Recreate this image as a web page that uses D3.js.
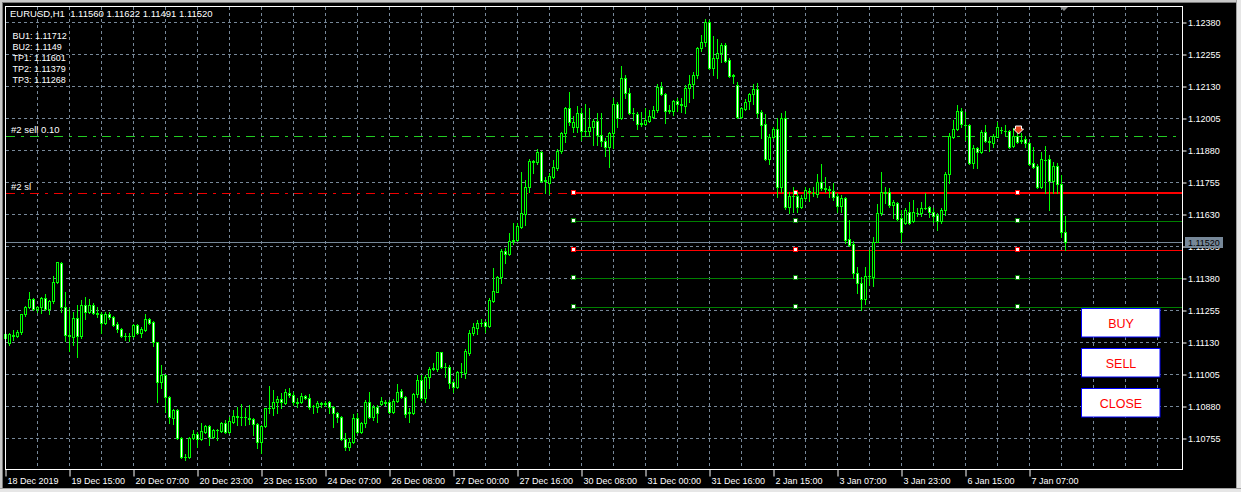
<!DOCTYPE html>
<html><head><meta charset="utf-8">
<script src="https://cdn.jsdelivr.net/npm/d3@7"></script>
<style>html,body{margin:0;padding:0;background:#000;overflow:hidden}svg{display:block}text{font-family:"Liberation Sans",Arial,sans-serif}</style>
</head><body><svg id="c" width="1241" height="492"></svg>
<script>
const symbolTitle = "EURUSD,H1  1.11560 1.11622 1.11491 1.11520";
const opens = [1.11146,1.11126,1.11157,1.11153,1.11169,1.11239,1.11267,1.11298,1.11259,1.11267,
1.11302,1.11259,1.11290,1.11364,1.11438,1.11267,1.11157,1.11150,1.11224,1.11153,
1.11275,1.11247,1.11275,1.11243,1.11239,1.11204,1.11239,1.11228,1.11200,1.11181,
1.11153,1.11153,1.11153,1.11196,1.11165,1.11177,1.11220,1.11208,1.11130,1.10974,
1.11001,1.10915,1.10833,1.10864,1.10755,1.10681,1.10681,1.10755,1.10771,1.10751,
1.10778,1.10802,1.10759,1.10786,1.10782,1.10814,1.10778,1.10817,1.10837,1.10837,
1.10837,1.10833,1.10829,1.10810,1.10739,1.10802,1.10872,1.10872,1.10896,1.10907,
1.10892,1.10931,1.10923,1.10896,1.10896,1.10919,1.10911,1.10880,1.10876,1.10888,
1.10888,1.10896,1.10876,1.10853,1.10837,1.10751,1.10720,1.10739,1.10833,1.10778,
1.10814,1.10896,1.10837,1.10876,1.10888,1.10896,1.10896,1.10857,1.10900,1.10939,
1.10915,1.10853,1.10853,1.10927,1.10982,1.10911,1.10993,1.11025,1.11025,1.11091,
1.11032,1.11032,1.10974,1.10954,1.11013,1.11009,1.11087,1.11165,1.11185,1.11204,
1.11208,1.11192,1.11290,1.11325,1.11384,1.11485,1.11474,1.11524,1.11528,1.11579,
1.11630,1.11735,1.11837,1.11833,1.11872,1.11759,1.11751,1.11775,1.11810,1.11876,
1.11946,1.12044,1.11970,1.11970,1.12025,1.11954,1.11954,1.11970,1.11993,1.11939,
1.11915,1.11892,1.11946,1.12060,1.12005,1.12161,1.12103,1.12025,1.12021,1.11982,
1.11982,1.11993,1.12009,1.12036,1.12126,1.12099,1.12032,1.12032,1.12071,1.12060,
1.12052,1.12122,1.12138,1.12173,1.12278,1.12302,1.12380,1.12200,1.12239,1.12259,
1.12290,1.12232,1.12169,1.12134,1.12009,1.12040,1.12071,1.12099,1.12118,1.12028,
1.11982,1.11845,1.11931,1.11962,1.11735,1.12005,1.11657,1.11700,1.11700,1.11657,
1.11692,1.11720,1.11712,1.11708,1.11755,1.11732,1.11728,1.11720,1.11700,1.11661,
1.11692,1.11532,1.11513,1.11399,1.11360,1.11298,1.11388,1.11384,1.11520,1.11634,
1.11716,1.11716,1.11665,1.11673,1.11614,1.11595,1.11638,1.11603,1.11634,1.11634,
1.11653,1.11657,1.11638,1.11626,1.11603,1.11646,1.11786,1.11931,1.11962,1.12032,
1.11978,1.11978,1.11829,1.11888,1.11872,1.11950,1.11915,1.11907,1.11931,1.11958,
1.11954,1.11954,1.11896,1.11935,1.11915,1.11923,1.11907,1.11829,1.11817,1.11735,
1.11841,1.11845,1.11759,1.11817,1.11747,1.11560];
const highs = [1.11192,1.11165,1.11177,1.11177,1.11239,1.11271,1.11325,1.11302,1.11271,1.11306,
1.11317,1.11294,1.11388,1.11442,1.11442,1.11325,1.11263,1.11247,1.11275,1.11294,
1.11306,1.11298,1.11282,1.11267,1.11247,1.11247,1.11247,1.11232,1.11208,1.11185,
1.11165,1.11165,1.11200,1.11200,1.11189,1.11239,1.11224,1.11212,1.11130,1.11040,
1.11005,1.10919,1.10868,1.10868,1.10759,1.10692,1.10759,1.10786,1.10778,1.10814,
1.10806,1.10806,1.10790,1.10790,1.10817,1.10825,1.10837,1.10864,1.10876,1.10888,
1.10872,1.10884,1.10833,1.10814,1.10806,1.10872,1.10958,1.10942,1.10919,1.10931,
1.10946,1.10950,1.10935,1.10911,1.10931,1.10923,1.10927,1.10884,1.10900,1.10896,
1.10900,1.10900,1.10880,1.10857,1.10841,1.10775,1.10755,1.10849,1.10853,1.10817,
1.10903,1.10935,1.10884,1.10884,1.10915,1.10903,1.10903,1.10907,1.10966,1.10946,
1.10919,1.10872,1.10931,1.11001,1.11001,1.11001,1.11032,1.11048,1.11091,1.11091,
1.11048,1.11040,1.10978,1.11017,1.11048,1.11103,1.11177,1.11204,1.11216,1.11220,
1.11212,1.11302,1.11419,1.11388,1.11493,1.11497,1.11556,1.11595,1.11595,1.11794,
1.11763,1.11845,1.11841,1.11884,1.11876,1.11775,1.11790,1.11841,1.11884,1.11950,
1.12048,1.12107,1.12013,1.12052,1.12044,1.12060,1.12044,1.12001,1.12025,1.12025,
1.11927,1.11950,1.12083,1.12067,1.12208,1.12173,1.12122,1.12044,1.12028,1.12028,
1.12044,1.12036,1.12052,1.12138,1.12146,1.12103,1.12056,1.12075,1.12083,1.12083,
1.12134,1.12173,1.12185,1.12282,1.12329,1.12392,1.12388,1.12325,1.12314,1.12298,
1.12298,1.12239,1.12177,1.12146,1.12048,1.12079,1.12103,1.12138,1.12142,1.12036,
1.12021,1.11942,1.11970,1.12005,1.12025,1.12032,1.11716,1.11735,1.11716,1.11704,
1.11735,1.11732,1.11735,1.11786,1.11825,1.11775,1.11739,1.11751,1.11712,1.11704,
1.11696,1.11607,1.11524,1.11423,1.11384,1.11423,1.11489,1.11540,1.11669,1.11794,
1.11735,1.11732,1.11685,1.11677,1.11646,1.11653,1.11677,1.11685,1.11653,1.11677,
1.11712,1.11661,1.11653,1.11634,1.11653,1.11794,1.11946,1.11997,1.12056,1.12044,
1.12028,1.11982,1.11900,1.11892,1.11958,1.11978,1.11931,1.11942,1.11989,1.11970,
1.11978,1.11958,1.11966,1.11950,1.11946,1.11935,1.11911,1.11892,1.11825,1.11872,
1.11896,1.11860,1.11833,1.11829,1.11782,1.11622];
const lows = [1.11126,1.11118,1.11138,1.11150,1.11161,1.11232,1.11263,1.11255,1.11247,1.11243,
1.11255,1.11239,1.11282,1.11360,1.11247,1.11134,1.11095,1.11118,1.11071,1.11146,
1.11220,1.11243,1.11239,1.11228,1.11165,1.11200,1.11220,1.11192,1.11169,1.11150,
1.11138,1.11134,1.11150,1.11161,1.11150,1.11173,1.11200,1.11114,1.10896,1.10950,
1.10857,1.10814,1.10810,1.10751,1.10677,1.10669,1.10677,1.10751,1.10720,1.10747,
1.10775,1.10728,1.10755,1.10747,1.10778,1.10775,1.10775,1.10814,1.10806,1.10806,
1.10806,1.10810,1.10767,1.10716,1.10696,1.10798,1.10853,1.10845,1.10853,1.10872,
1.10888,1.10915,1.10884,1.10876,1.10892,1.10907,1.10868,1.10853,1.10857,1.10876,
1.10880,1.10853,1.10798,1.10817,1.10747,1.10708,1.10708,1.10735,1.10775,1.10775,
1.10798,1.10833,1.10825,1.10817,1.10884,1.10884,1.10853,1.10853,1.10896,1.10911,
1.10837,1.10817,1.10849,1.10915,1.10903,1.10896,1.10950,1.11021,1.11017,1.11028,
1.10993,1.10950,1.10935,1.10950,1.10993,1.10989,1.11079,1.11157,1.11161,1.11192,
1.11169,1.11189,1.11286,1.11325,1.11360,1.11438,1.11470,1.11513,1.11524,1.11575,
1.11587,1.11716,1.11790,1.11825,1.11755,1.11712,1.11708,1.11771,1.11802,1.11868,
1.11911,1.11978,1.11950,1.11950,1.11919,1.11939,1.11939,1.11900,1.11900,1.11896,
1.11857,1.11814,1.11888,1.11970,1.12001,1.12083,1.12021,1.11997,1.11962,1.11974,
1.11978,1.11989,1.12005,1.12028,1.12095,1.11985,1.12025,1.12017,1.12032,1.12028,
1.12025,1.12067,1.12083,1.12161,1.12267,1.12286,1.12196,1.12173,1.12161,1.12224,
1.12224,1.12165,1.12142,1.12005,1.12005,1.12036,1.12040,1.12060,1.12009,1.11927,
1.11841,1.11825,1.11927,1.11696,1.11716,1.11650,1.11634,1.11638,1.11638,1.11653,
1.11685,1.11681,1.11700,1.11696,1.11724,1.11716,1.11696,1.11685,1.11638,1.11638,
1.11516,1.11505,1.11380,1.11321,1.11255,1.11278,1.11353,1.11349,1.11520,1.11626,
1.11673,1.11657,1.11614,1.11607,1.11520,1.11591,1.11591,1.11599,1.11622,1.11622,
1.11650,1.11618,1.11599,1.11567,1.11595,1.11626,1.11751,1.11927,1.11958,1.11970,
1.11919,1.11825,1.11810,1.11810,1.11868,1.11911,1.11876,1.11892,1.11931,1.11946,
1.11939,1.11888,1.11892,1.11907,1.11907,1.11892,1.11821,1.11810,1.11732,1.11732,
1.11712,1.11646,1.11712,1.11712,1.11540,1.11491];
const closes = [1.11161,1.11161,1.11153,1.11169,1.11239,1.11267,1.11298,1.11259,1.11267,1.11302,
1.11259,1.11290,1.11364,1.11442,1.11267,1.11157,1.11153,1.11224,1.11153,1.11275,
1.11247,1.11275,1.11243,1.11239,1.11204,1.11239,1.11228,1.11196,1.11181,1.11153,
1.11153,1.11153,1.11196,1.11165,1.11181,1.11220,1.11204,1.11130,1.10974,1.11001,
1.10915,1.10837,1.10864,1.10755,1.10681,1.10681,1.10755,1.10771,1.10751,1.10782,
1.10802,1.10759,1.10786,1.10786,1.10814,1.10778,1.10821,1.10841,1.10841,1.10837,
1.10837,1.10829,1.10810,1.10739,1.10802,1.10872,1.10872,1.10896,1.10907,1.10896,
1.10935,1.10923,1.10896,1.10892,1.10919,1.10911,1.10876,1.10880,1.10892,1.10892,
1.10892,1.10876,1.10853,1.10837,1.10751,1.10720,1.10739,1.10833,1.10778,1.10814,
1.10896,1.10837,1.10876,1.10853,1.10900,1.10892,1.10857,1.10900,1.10935,1.10915,
1.10849,1.10857,1.10927,1.10982,1.10911,1.10993,1.11025,1.11028,1.11091,1.11032,
1.11032,1.10970,1.10954,1.11013,1.11013,1.11095,1.11165,1.11189,1.11204,1.11204,
1.11192,1.11294,1.11329,1.11384,1.11485,1.11474,1.11524,1.11528,1.11583,1.11634,
1.11735,1.11837,1.11833,1.11872,1.11759,1.11763,1.11778,1.11814,1.11876,1.11946,
1.12044,1.11989,1.11989,1.12025,1.11954,1.11954,1.11970,1.11993,1.11939,1.11915,
1.11892,1.11946,1.12060,1.12005,1.12161,1.12103,1.12025,1.12025,1.11982,1.11985,
1.11997,1.12013,1.12036,1.12126,1.12099,1.12032,1.12036,1.12071,1.12060,1.12056,
1.12122,1.12138,1.12173,1.12278,1.12302,1.12380,1.12200,1.12239,1.12259,1.12290,
1.12228,1.12169,1.12173,1.12009,1.12044,1.12067,1.12099,1.12118,1.12025,1.11978,
1.11845,1.11931,1.11962,1.11735,1.12005,1.11657,1.11700,1.11700,1.11657,1.11692,
1.11724,1.11716,1.11712,1.11755,1.11732,1.11728,1.11724,1.11696,1.11661,1.11692,
1.11528,1.11509,1.11399,1.11360,1.11298,1.11388,1.11388,1.11520,1.11634,1.11716,
1.11712,1.11665,1.11677,1.11610,1.11560,1.11646,1.11595,1.11638,1.11634,1.11653,
1.11653,1.11638,1.11622,1.11603,1.11646,1.11786,1.11935,1.11962,1.12032,1.11982,
1.11978,1.11829,1.11888,1.11872,1.11950,1.11915,1.11911,1.11935,1.11970,1.11958,
1.11954,1.11892,1.11935,1.11911,1.11919,1.11907,1.11825,1.11814,1.11735,1.11845,
1.11841,1.11759,1.11817,1.11747,1.11560,1.11520];
const timeLabels = ["18 Dec 2019","19 Dec 15:00","20 Dec 07:00","20 Dec 23:00","23 Dec 15:00","24 Dec 07:00","26 Dec 08:00","27 Dec 00:00","27 Dec 16:00","30 Dec 08:00","31 Dec 00:00","31 Dec 16:00","2 Jan 15:00","3 Jan 07:00","3 Jan 23:00","6 Jan 15:00","7 Jan 07:00"];
const timeLabelBars = [0,16,32,48,64,80,96,112,128,144,160,176,192,208,224,240,256];
const priceTicks = [1.12380,1.12255,1.12130,1.12005,1.11880,1.11755,1.11630,1.11505,1.11380,1.11255,1.11130,1.11005,1.10880,1.10755];
const infoNames = ["BU1","BU2","TP1","TP2","TP3"];
const infoValues = ["1.11712","1.1149","1.11601","1.11379","1.11268"];
const levelPrices = [1.11712,1.11601,1.11490,1.11379,1.11268];
const levelColors = ["#ff0000","#008000","#ff0000","#008000","#008000"];
const levelAnchorBars = [142,197.5,253];
const sellPrice = 1.11935, slPrice = 1.11712, bidPrice = 1.11520;
const sellBar = 253;
const buttonLabels = ["BUY","SELL","CLOSE"];

const svg = d3.select("#c");
const W = 1241, H = 492;
const plotL = 6, plotR = 1182, plotT = 6, plotB = 469;
const nSlots = 294;
const x = d3.scaleLinear().domain([0, nSlots]).range([5.5, 5.5 + 4 * nSlots]);
const y = d3.scaleLinear().domain([1.10755, 1.12380]).range([438, 22]);
const yl = v => Math.round(y(v)) + 0.5;

svg.append("rect").attr("width", W).attr("height", H).attr("fill", "#000");

// grid
const grid = svg.append("g");
grid.selectAll("line.h").data(priceTicks).join("line")
  .attr("x1", plotL).attr("x2", plotR).attr("y1", d => yl(d)).attr("y2", d => yl(d))
  .attr("stroke", "#778899").attr("stroke-dasharray", "3,3");
const vBars = d3.range(8, nSlots, 8).filter(i => x(i) < plotR - 1);
grid.selectAll("line.v").data(vBars).join("line")
  .attr("x1", d => x(d)).attr("x2", d => x(d)).attr("y1", plotT + 1).attr("y2", plotB)
  .attr("stroke", "#778899").attr("stroke-dasharray", "3,3");

// sell / sl dash-dot lines
svg.append("line").attr("x1", plotL).attr("x2", plotR).attr("y1", yl(sellPrice)).attr("y2", yl(sellPrice))
  .attr("stroke", "#22cc22").attr("stroke-dasharray", "9,6,3,6");
svg.append("line").attr("x1", plotL).attr("x2", plotR).attr("y1", yl(slPrice)).attr("y2", yl(slPrice))
  .attr("stroke", "#ee0000").attr("stroke-dasharray", "9,6,3,6");

// bid line
svg.append("line").attr("x1", plotL).attr("x2", plotR).attr("y1", yl(bidPrice)).attr("y2", yl(bidPrice))
  .attr("stroke", "#778899");

// level lines with anchors
const lv = svg.append("g").attr("shape-rendering", "crispEdges");
levelPrices.forEach((p, k) => {
  lv.append("line").attr("x1", x(levelAnchorBars[0])).attr("x2", plotR)
    .attr("y1", yl(p) - (k === 0 ? 0.5 : 0)).attr("y2", yl(p) - (k === 0 ? 0.5 : 0))
    .attr("stroke", levelColors[k]).attr("stroke-width", k === 0 ? 2 : 1);
  levelAnchorBars.forEach(b => {
    lv.append("rect").attr("x", Math.round(x(b)) - 2.5).attr("y", Math.round(y(p)) - 2.5)
      .attr("width", 4).attr("height", 4).attr("fill", "#fff").attr("stroke", levelColors[k]);
  });
});

// candles
const data = opens.map((o, i) => ({ i, o, h: highs[i], l: lows[i], c: closes[i] }));
const cg = svg.append("g").attr("shape-rendering", "crispEdges");
cg.selectAll("g").data(data).join("g").each(function (d) {
  const g = d3.select(this);
  const cx = Math.floor(x(d.i));
  const yH = Math.round(y(d.h)), yL = Math.round(y(d.l));
  const yO = Math.round(y(d.o)), yC = Math.round(y(d.c));
  const top = Math.min(yO, yC), bot = Math.max(yO, yC);
  g.append("rect").attr("x", cx).attr("y", yH).attr("width", 1).attr("height", yL - yH + 1).attr("fill", "#00ff00");
  if (bot - top < 1) {
    g.append("rect").attr("x", cx - 1).attr("y", top).attr("width", 3).attr("height", 1).attr("fill", "#00ff00");
  } else {
    g.append("rect").attr("x", cx - 1).attr("y", top).attr("width", 3).attr("height", bot - top + 1).attr("fill", "#00ff00");
    if (bot - top > 1) {
      g.append("rect").attr("x", cx).attr("y", top + 1).attr("width", 1).attr("height", bot - top - 1)
        .attr("fill", d.c >= d.o ? "#000" : "#fff");
    }
  }
});

// sell arrow marker
const ax = Math.round(x(sellBar)) + 0.5, ay = Math.round(y(sellPrice)) - 5;
svg.append("path")
  .attr("d", `M${ax-3},${ay-5}H${ax+3}V${ay-2}H${ax+5}L${ax},${ay+3}L${ax-5},${ay-2}H${ax-3}Z`)
  .attr("fill", "#e8401a").attr("stroke", "#fff").attr("stroke-width", 1);

// frame
svg.append("rect").attr("x", 5.5).attr("y", 6.5).attr("width", plotR - 5).attr("height", plotB - 6)
  .attr("fill", "none").attr("stroke", "#fff");

// price axis
const yAxis = d3.axisRight(y).tickValues(priceTicks).tickFormat(d3.format(".5f")).tickSize(4).tickPadding(1.5);
const ya = svg.append("g").attr("transform", `translate(${plotR + 0.5},0.5)`).call(yAxis);
ya.select(".domain").remove();
ya.selectAll("line").attr("stroke", "#fff");
ya.selectAll("text").attr("fill", "#fff").attr("font-size", 9).attr("font-family", "Liberation Sans, Arial");

// bid label (covers the tick label below it, as in the terminal)
svg.append("rect").attr("x", 1185).attr("y", 237).attr("width", 38).attr("height", 11).attr("fill", "#778899");
svg.append("text").attr("x", 1188).attr("y", 246).attr("fill", "#000").attr("font-size", 9).text(d3.format(".5f")(bidPrice));

// time axis
const xAxis = d3.axisBottom(x).tickValues(timeLabelBars).tickFormat((d, i) => timeLabels[i]).tickSize(7).tickPadding(1);
const xa = svg.append("g").attr("transform", `translate(0,${plotB + 0.5})`).call(xAxis);
xa.select(".domain").remove();
xa.selectAll("line").attr("stroke", "#fff");
xa.selectAll("text").attr("fill", "#fff").attr("font-size", 9).attr("text-anchor", "start").attr("x", 1.5);

// texts
svg.append("text").attr("x", 10).attr("y", 17).attr("fill", "#fff").attr("font-size", 9.5)
  .style("white-space", "pre").text(symbolTitle);
svg.selectAll("text.info").data(infoNames).join("text").attr("class", "info")
  .attr("x", 12.5).attr("y", (d, i) => 39 + i * 11).attr("fill", "#fff").attr("font-size", 9)
  .text((d, i) => `${d}: ${infoValues[i]}`);
svg.append("text").attr("x", 11).attr("y", 133).attr("fill", "#fff").attr("font-size", 9.5).text("#2 sell 0.10");
svg.append("text").attr("x", 11).attr("y", 190).attr("fill", "#fff").attr("font-size", 9.5).text("#2 sl");

// shift triangle
svg.append("path").attr("d", "M1060,7L1068,7L1064,11Z").attr("fill", "#8a8a8a");

// buttons
const btnTop = [308.5, 348.5, 388.5];
buttonLabels.forEach((b, k) => {
  svg.append("rect").attr("x", 1081.5).attr("y", btnTop[k]).attr("width", 78.5).attr("height", 28.5)
    .attr("fill", "#fff").attr("stroke", "#0000ff");
  svg.append("text").attr("x", 1121).attr("y", btnTop[k] + 19).attr("text-anchor", "middle")
    .attr("fill", "#ff0000").attr("font-size", 12.5).text(b);
});

// window chrome
svg.append("rect").attr("x", 0).attr("y", 0).attr("width", W).attr("height", 2).attr("fill", "#c8c8c8");
svg.append("rect").attr("x", 0).attr("y", 2).attr("width", W).attr("height", 1).attr("fill", "#7a7a7a");
svg.append("rect").attr("x", 0).attr("y", 0).attr("width", 2).attr("height", H).attr("fill", "#c8c8c8");
svg.append("rect").attr("x", 2).attr("y", 2).attr("width", 1).attr("height", H - 4).attr("fill", "#7a7a7a");
svg.append("rect").attr("x", 1236).attr("y", 0).attr("width", 1).attr("height", H).attr("fill", "#a0a0a0");
svg.append("rect").attr("x", 1237).attr("y", 0).attr("width", 4).attr("height", H).attr("fill", "#e6e6e6");
svg.append("rect").attr("x", 0).attr("y", 488).attr("width", W).attr("height", 1).attr("fill", "#a0a0a0");
svg.append("rect").attr("x", 0).attr("y", 489).attr("width", W).attr("height", 3).attr("fill", "#e6e6e6");
</script></body></html>
